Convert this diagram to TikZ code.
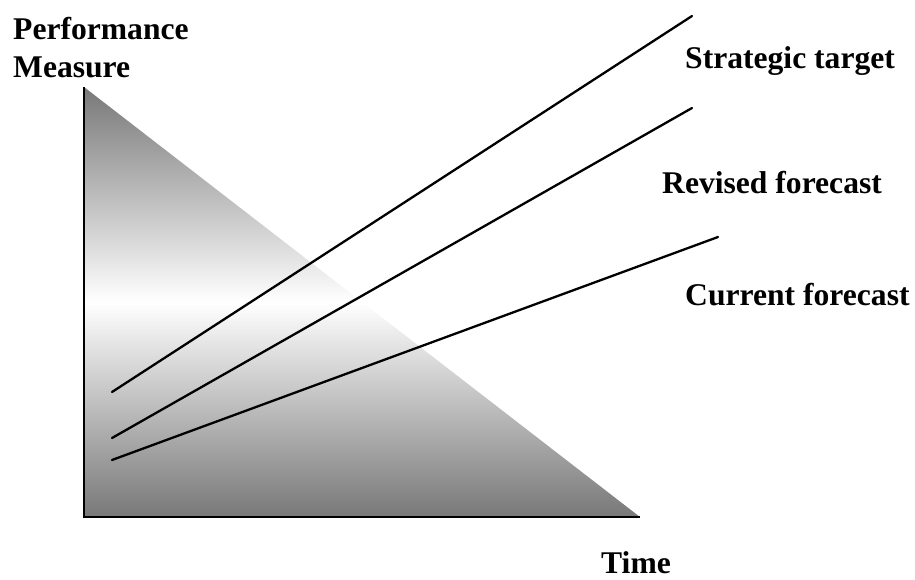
\documentclass[tikz,border=0pt]{standalone}
\usepackage{fontspec}
\setmainfont{Liberation Serif}
\begin{document}
\begin{tikzpicture}[x=1pt,y=-1pt,
  lbl/.style={anchor=base west,inner sep=0pt,font=\fontsize{31.6}{35}\selectfont\bfseries},
  trend/.style={line width=2.3pt,line cap=round}]
\useasboundingbox (0,0) rectangle (915,579);
\coordinate (tl) at (84,87);
\coordinate (bl) at (84,517);
\coordinate (br) at (640,517);
\shade[top color=black!53,bottom color=black!53,middle color=white] (tl) -- (bl) -- (br) -- cycle;
\draw[line width=2.8pt] (tl) -- (bl) -- (br);
\coordinate (s1) at (112,392); \coordinate (s2) at (692,16);
\coordinate (r1) at (112,438); \coordinate (r2) at (692,108);
\coordinate (c1) at (112,460); \coordinate (c2) at (718,237);
\draw[trend] (s1) -- (s2);
\draw[trend] (r1) -- (r2);
\draw[trend] (c1) -- (c2);
\node[lbl] (pm1) at (13,39.5) {Performance};
\node[lbl] (pm2) at (13,77) {Measure};
\node[lbl] (st) at (685,68) {Strategic target};
\node[lbl] (rf) at (662,193) {Revised forecast};
\node[lbl] (cf) at (685,305) {Current forecast};
\node[lbl] (tm) at (601,573) {Time};
\end{tikzpicture}
\end{document}
